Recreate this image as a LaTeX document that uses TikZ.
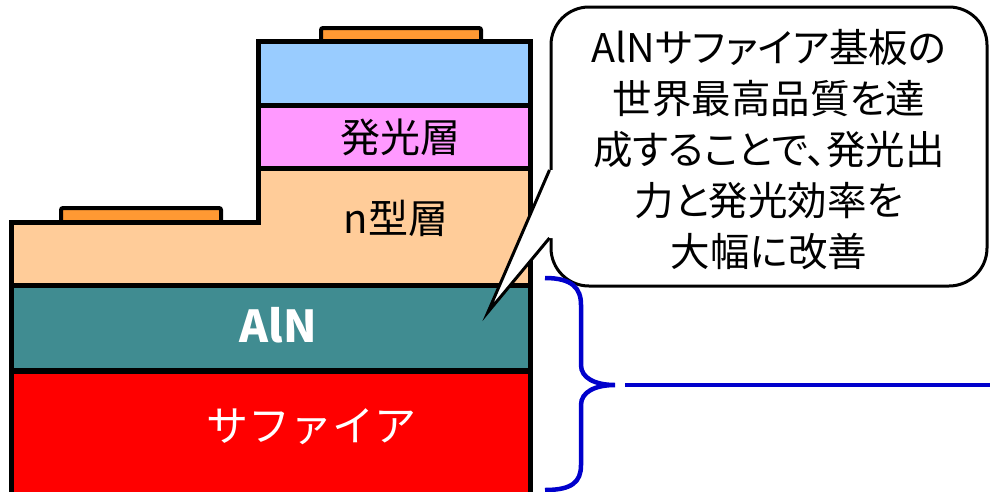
\documentclass[tikz,border=0pt]{standalone}
\usepackage{fontspec}
\setmainfont{Noto Sans CJK JP}
\newfontfamily\paltfont{Noto Sans CJK JP}[RawFeature=+palt]
\usetikzlibrary{calc}
\definecolor{blueL}{RGB}{153,204,255}
\definecolor{pinkL}{RGB}{255,153,255}
\definecolor{nL}{RGB}{255,204,153}
\definecolor{alnC}{RGB}{64,140,145}
\definecolor{sapC}{RGB}{255,0,0}
\definecolor{elecC}{RGB}{255,153,51}
\definecolor{braceC}{RGB}{0,0,204}
\begin{document}
\begin{tikzpicture}[x=1pt,y=-1pt,
  layer/.style={draw=black,line width=5pt,line join=miter},
  electrode/.style={draw=black,line width=4pt,fill=elecC,rounded corners=2pt},
  lbl/.style={font=\fontsize{40}{48}\selectfont,inner sep=0pt},
  callbox/.style={draw=black,line width=3pt,fill=white,rounded corners=38pt,
    minimum width=436pt,minimum height=279pt,inner sep=0pt},
  calltext/.style={font=\paltfont\fontsize{39.5}{51.2}\selectfont,align=center,inner sep=0pt},
  bracepath/.style={draw=braceC,line width=4.5pt},
]
\useasboundingbox (0,0) rectangle (990,491);
\clip (0,0) rectangle (990,491);
% electrodes
\path[electrode] (321,28) rectangle (481,43);
\path[electrode] (61,208) rectangle (221,224);
% layers
\path[layer,fill=sapC] (11,371) rectangle (530,496);
\path[layer,fill=alnC] (11,285) rectangle (530,370);
\path[layer,fill=nL] (11,285) -- (11,222) -- (258,222) -- (258,168) -- (530,168) -- (530,285) -- cycle;
\path[layer,fill=pinkL] (258,105) rectangle (530,168);
\path[layer,fill=blueL] (258,41) rectangle (530,105);
% labels
\node[lbl] (lum) at (400,137) {発光層};
\node[lbl] (ntype) at (396,218) {n型層};
\node[lbl,text=white,font=\bfseries\fontsize{44}{48}\selectfont] (alnlbl) at (278,325) {AlN};
\node[lbl,text=white,font=\fontsize{42}{48}\selectfont] (saplbl) at (311,427) {サファイア};
% callout
\node[callbox] (callout) at (769,146.5) {};
\coordinate (tip) at (488,312);
\coordinate (pa) at ($(callout.west)+(0,23.5)$);
\coordinate (pb) at ($(callout.west)+(0,91.5)$);
\fill[white] (pa) -- (tip) -- (pb) -- ($(pb)+(4,0)$) -- ($(pa)+(4,0)$) -- cycle;
\draw[line width=3pt,line join=miter] (pa) -- (tip) -- (pb);
\node[calltext] (ctext) at (769,149.5) {AlNサファイア基板の\\世界最高品質を達\\成することで、発光出\\力と発光効率を\\大幅に改善};
% brace
\coordinate (btop) at (545,278);
\coordinate (bbot) at (545,490);
\coordinate (btip) at (615,385);
\coordinate (lineL) at (625,385);
\coordinate (lineR) at (990,385);
\path[bracepath] (btop) .. controls (572,278) and (581,288) .. (581,305)
  -- (581,365) .. controls (581,378) and (595,385) .. (btip)
  .. controls (595,385) and (581,392) .. (581,405)
  -- (581,465) .. controls (581,482) and (572,490) .. (bbot);
\draw[draw=braceC,line width=4.5pt] (lineL) -- (lineR);
\end{tikzpicture}
\end{document}
